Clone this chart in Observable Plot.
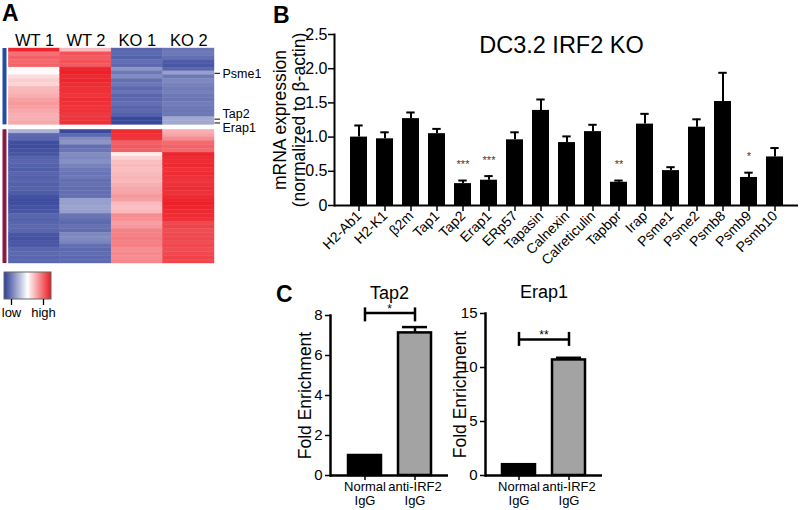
<!DOCTYPE html>
<html><head><meta charset="utf-8">
<script src="https://cdn.jsdelivr.net/npm/d3@7"></script>
<script src="https://cdn.jsdelivr.net/npm/@observablehq/plot@0.6"></script>
<style>
body{margin:0;background:#fff;font-family:"Liberation Sans",Arial,Helvetica,sans-serif;}
#fig{position:relative;width:800px;height:510px;overflow:hidden;background:#fff;}
.panel{position:absolute;}
.panel svg{overflow:visible;background:transparent;display:block;}
.lab{position:absolute;font-weight:bold;font-size:23px;line-height:1.1;}
</style></head><body><div id="fig"></div>
<script>
// ---------- Panel A: heatmap data (z-scored expression, -1 = low, 1 = high) ----------
const samples = ["WT 1", "WT 2", "KO 1", "KO 2"];
const upWT1 = [0.95,0.62,0.7,0.66,0.68,0.03,0.02,0.15,0.22,0.18,0.3,0.32,0.35,0.42,0.45,0.42,0.38,0.35,0.35,0.38];
const upWT2 = [0.3,0.75,0.72,0.75,0.72,0.95,0.97,0.93,0.95,0.92,0.9,0.9,0.88,0.92,0.9,0.88,0.9,0.87,0.88,0.9];
const upKO1 = [-0.8,-0.78,-0.82,-0.75,-0.78,-0.55,-0.7,-0.6,-0.75,-0.7,-0.78,-0.72,-0.8,-0.78,-0.75,-0.8,-0.78,-0.82,-0.95,-0.95];
const upKO2 = [-0.72,-0.7,-0.75,-0.85,-0.88,-0.8,-0.5,-0.7,-0.62,-0.65,-0.68,-0.66,-0.7,-0.72,-0.68,-0.7,-0.72,-0.7,-0.45,-0.45];
const downWT1 = [-0.4,-0.78,-0.8,-0.92,-0.93,-0.9,-0.88,-0.82,-0.8,-0.82,-0.84,-0.8,-0.82,-0.8,-0.83,-0.82,-0.85,-0.9,-0.93,-0.92,-0.9,-0.88,-0.8,-0.82,-0.8,-0.78,-0.8,-0.88,-0.9,-0.88,-0.87,-0.8,-0.78,-0.8,-0.79];
const downWT2 = [-0.95,-0.78,-0.6,-0.55,-0.75,-0.72,-0.6,-0.62,-0.58,-0.65,-0.7,-0.72,-0.7,-0.75,-0.74,-0.76,-0.75,-0.75,-0.5,-0.5,-0.48,-0.5,-0.72,-0.75,-0.78,-0.74,-0.76,-0.62,-0.6,-0.64,-0.75,-0.78,-0.76,-0.78,-0.77];
const downKO1 = [0.92,0.9,0.88,0.7,0.72,0.7,0.08,0.2,0.28,0.3,0.28,0.3,0.32,0.3,0.35,0.38,0.4,0.45,0.42,0.3,0.28,0.3,0.5,0.48,0.42,0.45,0.55,0.55,0.57,0.55,0.55,0.5,0.52,0.5,0.52];
const downKO2 = [0.35,0.4,0.5,0.65,0.68,0.66,0.95,0.93,0.92,0.94,0.9,0.92,0.9,0.88,0.9,0.92,0.9,0.92,0.95,0.97,0.95,0.93,0.92,0.9,0.8,0.82,0.78,0.8,0.8,0.78,0.8,0.78,0.8,0.82,0.8];
const markedGenes = ["Psme1", "Tap2", "Erap1"];
const markedRows = [6, 18, 19];
const legendLabels = ["low", "high"];

// ---------- Panel B: qPCR ----------
const genes = ["H2-Ab1","H2-K1","β2m","Tap1","Tap2","Erap1","ERp57","Tapasin","Calnexin","Calreticulin","Tapbpr","Irap","Psme1","Psme2","Psmb8","Psmb9","Psmb10"];
const exprMean = [1.00,0.975,1.27,1.05,0.32,0.37,0.96,1.39,0.92,1.08,0.34,1.19,0.51,1.145,1.52,0.41,0.71];
const exprSem  = [0.17,0.095,0.09,0.07,0.045,0.06,0.11,0.16,0.09,0.10,0.025,0.15,0.05,0.115,0.42,0.07,0.13];
const exprSig  = ["","","","","***","***","","","","","**","","","","","*",""];
const yTicksB = [0, 0.5, 1, 1.5, 2, 2.5];

// ---------- Panel C: ChIP ----------
const chipGroups = ["Normal IgG", "anti-IRF2 IgG"];
const tap2Mean = [1.0, 7.13];
const tap2Sem = [0, 0.29];
const erap1Mean = [1.0, 10.7];
const erap1Sem = [0, 0.2];
const tap2Ticks = [0, 2, 4, 6, 8];
const erap1Ticks = [0, 5, 10, 15];
const tap2Bracket = {level: 8.13, label: "*"};
const erap1Bracket = {level: 12.6, label: "**"};

// ---------- helpers ----------
const FONT = '"Liberation Sans", Arial, Helvetica, sans-serif';
const baseStyle = {fontFamily: FONT, background: "transparent", overflow: "visible", color: "#000"};
const fig = document.getElementById("fig");
function place(node, left, top) {
  const d = document.createElement("div");
  d.className = "panel";
  d.style.left = left + "px"; d.style.top = top + "px";
  d.appendChild(node); fig.appendChild(d);
}
function label(txt, left, top) {
  const d = document.createElement("div");
  d.className = "lab"; d.textContent = txt;
  d.style.left = left + "px"; d.style.top = top + "px";
  fig.appendChild(d);
}
const heatColor = {type: "linear", domain: [-1, 0, 1], range: ["#2f3f98", "#ffffff", "#ec1a22"], interpolate: "rgb"};

// ---------- Panel A ----------
const nTop = upWT1.length, nBot = downWT1.length, gap = 1.3;
const cells = [];
[upWT1, upWT2, upKO1, upKO2].forEach((col, c) => col.forEach((v, r) => cells.push({c, row: r, value: v})));
[downWT1, downWT2, downKO1, downKO2].forEach((col, c) => col.forEach((v, r) => cells.push({c, row: nTop + gap + r, value: v})));
const blocks = [{start: 0, end: nTop}, {start: nTop + gap, end: nTop + gap + nBot}];
const marks = markedGenes.map((g, i) => ({gene: g, row: markedRows[i]}));
const labelDy = [1, -5.5, 5];

const heat = Plot.plot({
  width: 270, height: 240, marginTop: 18, marginBottom: 7, marginLeft: 8.3, marginRight: 56,
  style: baseStyle,
  x: {domain: [0, samples.length], axis: null},
  y: {domain: [0, nTop + gap + nBot], axis: null, reverse: true},
  color: heatColor,
  marks: [
    Plot.rect(cells, {x1: d => d.c, x2: d => d.c + 1, y1: "row", y2: d => d.row + 1, fill: "value", stroke: "value", strokeWidth: 0.4}),
    Plot.ruleX(blocks, {x: 0, y1: "start", y2: "end", stroke: (d, i) => i === 0 ? "#1f4fa5" : "#8b1a45", strokeWidth: 4, dx: -4.3}),
    Plot.text(samples, {x: (d, i) => i + 0.5, frameAnchor: "top", lineAnchor: "bottom", dy: -3, fontSize: 16.5}),
    Plot.ruleY(marks, {y: d => d.row + 0.5, x1: samples.length, x2: samples.length, insetLeft: 0.5, insetRight: -6, strokeWidth: 1}),
    ...marks.map((m, i) => Plot.text([m], {x: samples.length, y: d => d.row + 0.5, text: "gene", textAnchor: "start", dx: 8, dy: labelDy[i], fontSize: 12.5}))
  ]
});
place(heat, 0, 30);

// legend
const leg = Plot.legend({
  color: heatColor, label: null, width: 62, height: 50, marginTop: 1, marginBottom: 22, marginLeft: 4, marginRight: 11,
  ticks: [-0.7, 0.66], tickSize: 6, tickFormat: d => d < 0 ? legendLabels[0] : legendLabels[1],
  style: {fontFamily: FONT, fontSize: "13px", background: "transparent", overflow: "visible", color: "#000"}
});
leg.querySelectorAll(".tick line").forEach(l => { l.setAttribute("y1", 0); l.setAttribute("stroke-width", 1.3); });
const img = leg.querySelector("image");
if (img) {
  const r = document.createElementNS("http://www.w3.org/2000/svg", "rect");
  ["x", "y", "width", "height"].forEach(a => r.setAttribute(a, img.getAttribute(a)));
  r.setAttribute("fill", "none"); r.setAttribute("stroke", "#666"); r.setAttribute("stroke-width", 1);
  img.parentNode.insertBefore(r, img.nextSibling);
}
place(leg, 0, 271);

// ---------- Panel B ----------
const bData = genes.map((g, i) => ({gene: g, value: exprMean[i], sem: exprSem[i], sig: exprSig[i]}));
const bar = Plot.plot({
  width: 560, height: 275, marginLeft: 94, marginRight: 2, marginTop: 34, marginBottom: 70,
  style: baseStyle,
  x: {domain: genes, padding: 0.35},
  y: {domain: [0, 2.5]},
  marks: [
    Plot.barY(bData, {x: "gene", y: "value", fill: "#000"}),
    Plot.ruleX(bData, {x: "gene", y1: "value", y2: d => d.value + d.sem, strokeWidth: 2}),
    Plot.tickY(bData, {x: "gene", y: d => d.value + d.sem, strokeWidth: 2, inset: 4.3}),
    Plot.text(bData.filter(d => d.sig), {x: "gene", y: d => d.value + d.sem, text: "sig", dy: -16, fontSize: 11, fill: "#3a3a3a"}),
    Plot.axisY({ticks: yTicksB, tickFormat: d => d === 0 ? "0" : d.toFixed(1), tickSize: 6, tickPadding: 1, fontSize: 16, label: null, strokeWidth: 1.5}),
    Plot.axisX({tickRotate: -45, tickSize: 6, tickPadding: 2, fontSize: 14, label: null, strokeWidth: 1.5}),
    Plot.ruleY([0], {strokeWidth: 2}),
    Plot.frame({anchor: "left", strokeWidth: 2}),
    Plot.text(["mRNA expression\n(normalized to β-actin)"], {frameAnchor: "left", textAnchor: "middle", rotate: -90, dx: -45, fontSize: 17.5, lineHeight: 1.05}),
    Plot.text(["DC3.2 IRF2 KO"], {frameAnchor: "top", lineAnchor: "bottom", dy: 18, dx: -5, fontSize: 23.5})
  ]
});
place(bar, 240, 0);

// ---------- Panel C ----------
function enrich({title, means, sems, bracket, ticks, yMax, width, marginLeft, marginRight, marginTop, marginBottom, titleDy, capTop, capBottom}) {
  const data = chipGroups.map((g, i) => ({grp: g, value: means[i], sem: sems[i]}));
  const caps = chipGroups.map(g => ({grp: g, level: bracket.level}));
  return Plot.plot({
    width, height: 230, marginLeft, marginRight, marginTop, marginBottom,
    style: baseStyle,
    x: {domain: chipGroups, padding: 0.34},
    y: {domain: [0, yMax]},
    color: {domain: chipGroups, range: ["#000000", "#a3a3a3"]},
    marks: [
      Plot.barY(data, {x: "grp", y: "value", fill: "grp", stroke: "#000", strokeWidth: 2.5}),
      Plot.ruleX(data.filter(d => d.sem > 0), {x: "grp", y1: "value", y2: d => d.value + d.sem, strokeWidth: 2.5}),
      Plot.tickY(data.filter(d => d.sem > 0), {x: "grp", y: d => d.value + d.sem, strokeWidth: 2.5, inset: 4}),
      Plot.link([bracket], {x1: () => chipGroups[0], x2: () => chipGroups[1], y1: "level", y2: "level", strokeWidth: 2.5}),
      Plot.ruleX(caps, {x: "grp", y1: "level", y2: "level", insetTop: -capTop, insetBottom: -capBottom, strokeWidth: 2.5}),
      Plot.text([bracket], {y: "level", text: "label", frameAnchor: "middle", dy: -4, fontSize: 12}),
      Plot.axisY({ticks, tickSize: 5, tickPadding: 3, fontSize: 15, label: null, strokeWidth: 1.5}),
      Plot.axisX({tickSize: 5, tickPadding: 1, fontSize: 13, lineHeight: 1.05, label: null, tickFormat: d => d.replace(" ", "\n"), strokeWidth: 1.5}),
      Plot.ruleY([0], {strokeWidth: 2.5}),
      Plot.frame({anchor: "left", strokeWidth: 2.5}),
      Plot.text(["Fold Enrichment"], {frameAnchor: "left", textAnchor: "middle", rotate: -90, dx: -25, fontSize: 17.5}),
      Plot.text([title], {frameAnchor: "top", lineAnchor: "bottom", dy: titleDy, fontSize: 18})
    ]
  });
}
place(enrich({title: "Tap2", means: tap2Mean, sems: tap2Sem, bracket: tap2Bracket, ticks: tap2Ticks, yMax: 8,
  width: 220, marginLeft: 90, marginRight: 12, marginTop: 35, marginBottom: 35, titleDy: -17, capTop: 5, capBottom: 9}), 240, 280);
place(enrich({title: "Erap1", means: erap1Mean, sems: erap1Sem, bracket: erap1Bracket, ticks: erap1Ticks, yMax: 15,
  width: 200, marginLeft: 65, marginRight: 18, marginTop: 33, marginBottom: 35, titleDy: -16, capTop: 7, capBottom: 7}), 420, 280);

label("A", 2, 1);
label("B", 273, 3);
label("C", 276, 282);
</script></body></html>
